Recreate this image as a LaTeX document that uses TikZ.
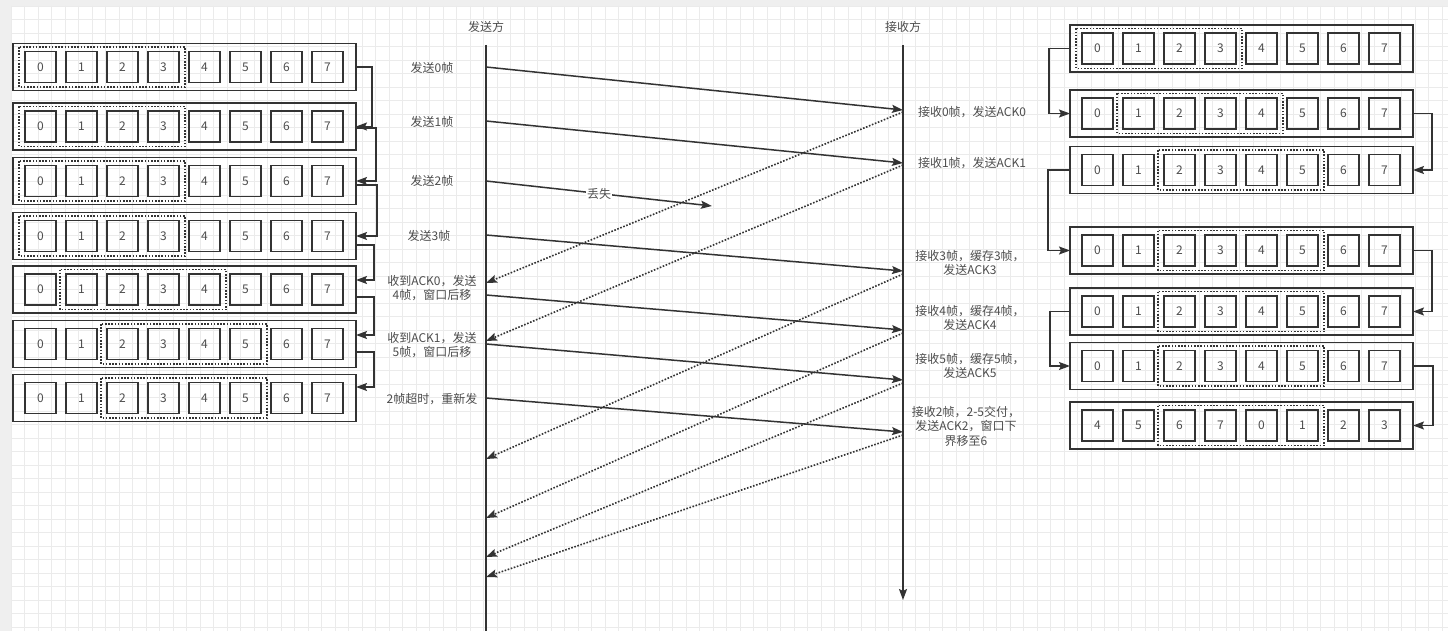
\documentclass[tikz,border=0pt]{standalone}
\usepackage{fontspec}
\setmainfont{Noto Sans CJK SC}
\usetikzlibrary{arrows.meta,calc}
\definecolor{linegray}{HTML}{333333}
\definecolor{txtgray}{HTML}{4D4D4D}
\definecolor{gridgray}{HTML}{EBEBEB}
\definecolor{bandgray}{HTML}{EFEFEF}

% one window row: name, x, y, frame numbers, first and last cell of the window
\newcommand{\winrow}[6]{%
  \node[rowbox] (#1) at (#2,#3) {};
  \foreach \lab [count=\k from 0] in {#4}
    \node[cell] (#1c\k) at ($(#1.west)+(27.5+41*\k,0)$) {\lab};
  \draw[win] ($(#1c#5.north west)+(-6,-4.5)$) rectangle ($(#1c#6.south east)+(6,4.5)$);
}

\begin{document}
\begin{tikzpicture}[x=1pt,y=-1pt,
    rowbox/.style={draw=linegray, line width=1.8pt, minimum width=343pt, minimum height=47pt, inner sep=0pt, outer sep=0pt},
    cell/.style={draw=linegray, line width=1.8pt, minimum size=31pt, inner sep=0pt, outer sep=0pt, text=txtgray, font=\fontsize{12}{14}\selectfont},
    win/.style={draw=linegray, line width=1.6pt, dash pattern=on 1.6pt off 1.6pt},
    lbl/.style={text=txtgray, align=center, inner sep=1pt, font=\fontsize{12}{14.5}\selectfont},
    life/.style={draw=linegray, line width=1.6pt},
    msg/.style={draw=linegray, line width=1.5pt, -{Stealth[length=11pt,width=8pt,inset=2pt]}},
    ack/.style={draw=linegray, line width=1.6pt, dash pattern=on 1.6pt off 1.6pt, -{Stealth[length=11pt,width=8pt,inset=2pt]}},
    link/.style={draw=linegray, line width=1.5pt, -{Stealth[length=11pt,width=8pt,inset=2pt]}}]

\useasboundingbox (0,0) rectangle (1448,631);
% background grid
\fill[bandgray] (0,0) rectangle (1448,631);
\fill[white] (11,6) rectangle (1448,631);
\foreach \k in {0,...,106} \draw[gridgray, line width=0.8pt] (11+13.5*\k,6) -- (11+13.5*\k,631);
\foreach \k in {0,...,46} \draw[gridgray, line width=0.8pt] (11,6+13.5*\k) -- (1448,6+13.5*\k);

% sender windows
\winrow{L1}{184.5}{67}{0,1,2,3,4,5,6,7}{0}{3}
\winrow{L2}{184.5}{126.5}{0,1,2,3,4,5,6,7}{0}{3}
\winrow{L3}{184.5}{181}{0,1,2,3,4,5,6,7}{0}{3}
\winrow{L4}{184.5}{236}{0,1,2,3,4,5,6,7}{0}{3}
\winrow{L5}{184.5}{289.5}{0,1,2,3,4,5,6,7}{1}{4}
\winrow{L6}{184.5}{344}{0,1,2,3,4,5,6,7}{2}{5}
\winrow{L7}{184.5}{398}{0,1,2,3,4,5,6,7}{2}{5}

\draw[link] (L1.east) -- ++(16,0) |- (L2.east);
\draw[link] ([yshift=-1.5pt]L2.east) -- ++(20,0) |- (L3.east);
\draw[link] ([yshift=-4pt]L3.east) -- ++(21,0) |- (L4.east);
\draw[link] ([yshift=-9pt]L4.east) -- ++(18,0) |- ([yshift=9.5pt]L5.east);
\draw[link] ([yshift=-7.5pt]L5.east) -- ++(18,0) |- ([yshift=9pt]L6.east);
\draw[link] ([yshift=-8pt]L6.east) -- ++(18,0) |- ([yshift=11pt]L7.east);

% receiver windows
\winrow{R1}{1241.5}{48.5}{0,1,2,3,4,5,6,7}{0}{3}
\winrow{R2}{1241.5}{113.5}{0,1,2,3,4,5,6,7}{1}{4}
\winrow{R3}{1241.5}{170}{0,1,2,3,4,5,6,7}{2}{5}
\winrow{R4}{1241.5}{250.5}{0,1,2,3,4,5,6,7}{2}{5}
\winrow{R5}{1241.5}{311.5}{0,1,2,3,4,5,6,7}{2}{5}
\winrow{R6}{1241.5}{366}{0,1,2,3,4,5,6,7}{2}{5}
\winrow{R7}{1241.5}{425.5}{4,5,6,7,0,1,2,3}{2}{5}

\draw[link] (R1.west) -- ++(-21,0) |- (R2.west);
\draw[link] (R2.east) -- ++(19,0) |- (R3.east);
\draw[link] (R3.west) -- ++(-22,0) |- (R4.west);
\draw[link] (R4.east) -- ++(19,0) |- (R5.east);
\draw[link] (R5.west) -- ++(-20,0) |- (R6.west);
\draw[link] (R6.east) -- ++(20,0) |- (R7.east);

% lifelines
\node[lbl] (sender) at (486,27) {发送方};
\node[lbl] (receiver) at (903,27) {接收方};
\coordinate (stop) at (486,45);
\coordinate (sbot) at (486,631);
\coordinate (rtop) at (903,45);
\coordinate (rbot) at (903,600);
\draw[life] (stop) -- (sbot);
\draw[life, -{Stealth[length=11pt,width=8pt,inset=2pt]}] (rtop) -- (rbot);

% frames
\foreach \n/\ys/\yr in {0/67/110, 1/121/163, 3/235/271, 4/295/330, 5/344/380, 2/398/432}{
  \coordinate (send\n) at (486,\ys);
  \coordinate (recv\n) at (903,\yr);
  \draw[msg] (send\n) -- (recv\n);
}
\coordinate (sendlost) at (486,181);
\coordinate (lost) at (712,206);
\draw[msg] (sendlost) -- node[lbl, fill=white, inner sep=1pt] (lostlbl) {丢失} (lost);

% acks
\foreach \n/\yr/\ys in {0/112/283, 1/165/341, 3/274/459, 4/333/518, 5/383/557, 2/435/577}{
  \coordinate (ackr\n) at (903,\yr);
  \coordinate (acks\n) at (486,\ys);
  \draw[ack] (ackr\n) -- (acks\n);
}

% sender notes
\node[lbl] (s0) at (432,68) {发送0帧};
\node[lbl] (s1) at (432,122) {发送1帧};
\node[lbl] (s2) at (432,181) {发送2帧};
\node[lbl] (s3) at (429,236) {发送3帧};
\node[lbl] (s4) at (432,288) {收到ACK0，发送\\4帧，窗口后移};
\node[lbl] (s5) at (432,345) {收到ACK1，发送\\5帧，窗口后移};
\node[lbl] (s6) at (432,399) {2帧超时，重新发};

% receiver notes
\node[lbl] (r0) at (972,112) {接收0帧，发送ACK0};
\node[lbl] (r1) at (972,163) {接收1帧，发送ACK1};
\node[lbl] (r3) at (970,263) {接收3帧，缓存3帧，\\发送ACK3};
\node[lbl] (r4) at (970,318) {接收4帧，缓存4帧，\\发送ACK4};
\node[lbl] (r5) at (970,366) {接收5帧，缓存5帧，\\发送ACK5};
\node[lbl] (r2) at (966,426) {接收2帧，2-5交付，\\发送ACK2，窗口下\\界移至6};
\end{tikzpicture}
\end{document}
